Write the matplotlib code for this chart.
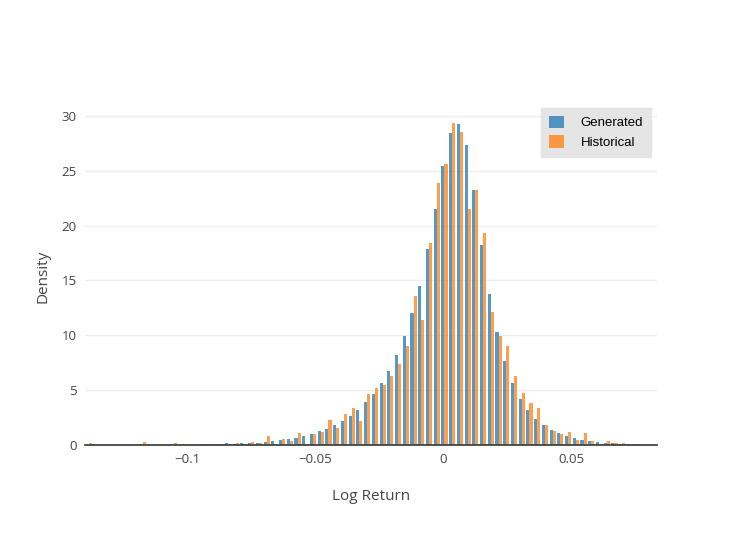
import numpy as np
import matplotlib
matplotlib.use('Agg')
import matplotlib.pyplot as plt

# histogram bins (log return)
bin_left = -0.13993
bin_width = 0.00302

# density per bin, bins run left to right
generated = [0, 0, 0, 0, 0, 0, 0, 0, 0, 0, 0, 0,
             0.03, 0.03, 0.03, 0.06, 0.1, 0.1, 0.15, 0.09, 0.18, 0.18,
             0.21, 0.27, 0.36, 0.42, 0.52, 0.64, 0.82, 0.97, 1.25, 1.49,
             1.79, 2.16, 2.64, 3.19, 3.89, 4.62, 5.62, 6.75, 8.17, 9.9,
             12.0, 14.46, 17.87, 21.5,
             25.4, 28.4, 29.26, 27.35, 23.25, 18.2, 13.76, 10.3, 7.66, 5.62,
             4.22, 3.19, 2.4, 1.85, 1.4, 1.09, 0.84, 0.64, 0.46, 0.33,
             0.27, 0.18, 0.15, 0.09, 0.06, 0.06, 0.03, 0]
historical = [0.15, 0, 0, 0, 0, 0, 0, 0.27, 0, 0, 0, 0.15,
              0, 0, 0.03, 0, 0.1, 0.03, 0.06, 0.21, 0.12, 0.24,
              0.21, 0.82, 0.06, 0.52, 0.36, 1.06, 0.09, 1.03, 1.19, 2.28,
              1.58, 2.83, 3.37, 2.16, 4.65, 5.2, 5.44, 6.29, 7.38, 9.02,
              13.6, 11.4, 18.44, 23.85,
              25.6, 29.3, 28.5, 21.5, 23.25, 19.3, 12.1, 9.9, 9.05, 6.29,
              4.77, 3.8, 3.4, 1.85, 1.3, 1.03, 1.2, 0.46, 1.06, 0.33,
              0.09, 0.36, 0.21, 0.21, 0.03, 0, 0, 0]
labels = ['Generated', 'Historical']
x_ticks = [-0.1, -0.05, 0, 0.05]
x_ticklabels = ['\u22120.1', '\u22120.05', '0', '0.05']
y_ticks = [0, 5, 10, 15, 20, 25, 30]

n = len(generated)
centers = bin_left + (np.arange(n) + 0.5) * bin_width
bar_w = 0.4 * bin_width

plt.rcParams['font.family'] = ['Open Sans', 'DejaVu Sans']

fig = plt.figure(figsize=(7.47, 5.36), dpi=100)
ax = fig.add_axes([85 / 747, 91 / 536, 572 / 747, 338 / 536])

ax.bar(centers - bar_w, generated, width=bar_w, align='edge',
       color='#1f77b4', alpha=0.75, label=labels[0], zorder=2)
ax.bar(centers, historical, width=bar_w, align='edge',
       color='#ff7f0e', alpha=0.75, label=labels[1], zorder=2)

ax.set_xlim(bin_left, bin_left + n * bin_width)
ax.set_ylim(0, 30.8)

ax.set_xticks(x_ticks)
ax.set_xticklabels(x_ticklabels)
ax.set_yticks(y_ticks)
ax.tick_params(length=0, labelsize=9.5, labelcolor='#444444', pad=6)
ax.grid(axis='y', color='#eeeeee', linewidth=1, zorder=0)
ax.set_axisbelow(True)
for s in ['top', 'right', 'left']:
    ax.spines[s].set_visible(False)
ax.spines['bottom'].set_color('#444444')
ax.spines['bottom'].set_linewidth(1.3)

ax.set_xlabel('Log Return', fontsize=11, color='#444444', labelpad=16)
ax.set_ylabel('Density', fontsize=11, color='#444444', labelpad=8)

leg = ax.legend(loc='upper right', bbox_to_anchor=(0.99, 0.998),
                prop={'family': 'Liberation Sans', 'size': 9.5},
                frameon=True, fancybox=False, handlelength=1.1, handleheight=1.1,
                borderpad=0.6, labelspacing=0.45, handletextpad=1.3,
                borderaxespad=0)
leg.get_frame().set_facecolor('#e5e5e5')
leg.get_frame().set_edgecolor('#e5e5e5')
leg.get_frame().set_alpha(1)

fig.savefig('out.png', dpi=100)
